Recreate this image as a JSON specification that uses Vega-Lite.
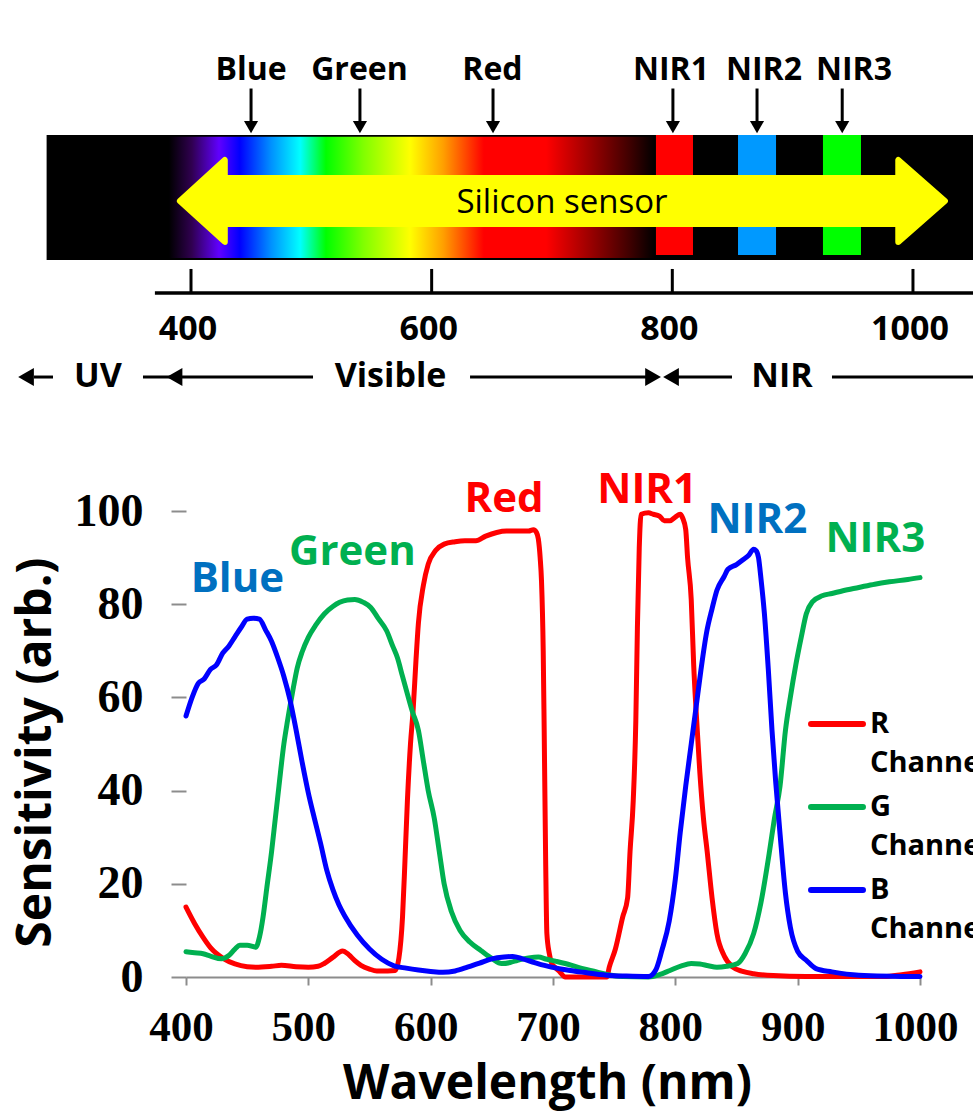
{
  "$schema": "https://vega.github.io/schema/vega-lite/v6.json",
  "width": 734,
  "height": 977,
  "autosize": {"type": "none"},
  "padding": {"left": 186, "top": 0, "right": 53, "bottom": 138},
  "background": "white",
  "config": {"view": {"stroke": null}, "font": "Open Sans"},
  "layer": [
    {
      "layer": [
        {
          "data": {"values": [
            {"channel":"R Channel","wavelength":400,"sensitivity":15},{"channel":"R Channel","wavelength":407,"sensitivity":11.5},{"channel":"R Channel","wavelength":414,"sensitivity":8.5},{"channel":"R Channel","wavelength":420,"sensitivity":6.3},{"channel":"R Channel","wavelength":431,"sensitivity":3.9},{"channel":"R Channel","wavelength":440,"sensitivity":2.8},{"channel":"R Channel","wavelength":450,"sensitivity":2.2},{"channel":"R Channel","wavelength":457,"sensitivity":2.1},{"channel":"R Channel","wavelength":470,"sensitivity":2.3},{"channel":"R Channel","wavelength":478,"sensitivity":2.5},{"channel":"R Channel","wavelength":490,"sensitivity":2.2},{"channel":"R Channel","wavelength":500,"sensitivity":2.1},{"channel":"R Channel","wavelength":508,"sensitivity":2.3},{"channel":"R Channel","wavelength":513,"sensitivity":2.9},{"channel":"R Channel","wavelength":520,"sensitivity":4.2},{"channel":"R Channel","wavelength":528,"sensitivity":5.6},{"channel":"R Channel","wavelength":533,"sensitivity":4.8},{"channel":"R Channel","wavelength":538,"sensitivity":3.5},{"channel":"R Channel","wavelength":543,"sensitivity":2.5},{"channel":"R Channel","wavelength":550,"sensitivity":1.7},{"channel":"R Channel","wavelength":556,"sensitivity":1.3},{"channel":"R Channel","wavelength":565,"sensitivity":1.3},{"channel":"R Channel","wavelength":571,"sensitivity":1.4},{"channel":"R Channel","wavelength":574,"sensitivity":4},{"channel":"R Channel","wavelength":577,"sensitivity":12.9},{"channel":"R Channel","wavelength":579,"sensitivity":25},{"channel":"R Channel","wavelength":581,"sensitivity":37.9},{"channel":"R Channel","wavelength":583.5,"sensitivity":50},{"channel":"R Channel","wavelength":585.6,"sensitivity":57},{"channel":"R Channel","wavelength":588,"sensitivity":68},{"channel":"R Channel","wavelength":590,"sensitivity":76},{"channel":"R Channel","wavelength":594,"sensitivity":84},{"channel":"R Channel","wavelength":598,"sensitivity":88.6},{"channel":"R Channel","wavelength":604,"sensitivity":91.5},{"channel":"R Channel","wavelength":611,"sensitivity":92.9},{"channel":"R Channel","wavelength":620,"sensitivity":93.4},{"channel":"R Channel","wavelength":628,"sensitivity":93.6},{"channel":"R Channel","wavelength":637,"sensitivity":93.6},{"channel":"R Channel","wavelength":645,"sensitivity":94.6},{"channel":"R Channel","wavelength":654,"sensitivity":95.4},{"channel":"R Channel","wavelength":662,"sensitivity":95.7},{"channel":"R Channel","wavelength":671,"sensitivity":95.7},{"channel":"R Channel","wavelength":680,"sensitivity":95.7},{"channel":"R Channel","wavelength":684,"sensitivity":96},{"channel":"R Channel","wavelength":686.5,"sensitivity":95.4},{"channel":"R Channel","wavelength":688,"sensitivity":94},{"channel":"R Channel","wavelength":689.5,"sensitivity":90},{"channel":"R Channel","wavelength":690.6,"sensitivity":85},{"channel":"R Channel","wavelength":692,"sensitivity":70},{"channel":"R Channel","wavelength":692.8,"sensitivity":52.9},{"channel":"R Channel","wavelength":694,"sensitivity":25},{"channel":"R Channel","wavelength":695,"sensitivity":9.3},{"channel":"R Channel","wavelength":697,"sensitivity":5},{"channel":"R Channel","wavelength":699,"sensitivity":2.9},{"channel":"R Channel","wavelength":702,"sensitivity":2},{"channel":"R Channel","wavelength":705.6,"sensitivity":1.1},{"channel":"R Channel","wavelength":710,"sensitivity":0},{"channel":"R Channel","wavelength":744,"sensitivity":0},{"channel":"R Channel","wavelength":746,"sensitivity":2.1},{"channel":"R Channel","wavelength":751,"sensitivity":6},{"channel":"R Channel","wavelength":757,"sensitivity":12.9},{"channel":"R Channel","wavelength":761,"sensitivity":17},{"channel":"R Channel","wavelength":763,"sensitivity":27},{"channel":"R Channel","wavelength":765.6,"sensitivity":37.9},{"channel":"R Channel","wavelength":767.7,"sensitivity":55},{"channel":"R Channel","wavelength":769,"sensitivity":75},{"channel":"R Channel","wavelength":770.5,"sensitivity":92},{"channel":"R Channel","wavelength":772,"sensitivity":99.3},{"channel":"R Channel","wavelength":778,"sensitivity":99.6},{"channel":"R Channel","wavelength":782,"sensitivity":99.3},{"channel":"R Channel","wavelength":787,"sensitivity":98.9},{"channel":"R Channel","wavelength":791,"sensitivity":97.9},{"channel":"R Channel","wavelength":795.6,"sensitivity":97.9},{"channel":"R Channel","wavelength":800,"sensitivity":98.7},{"channel":"R Channel","wavelength":804,"sensitivity":99.3},{"channel":"R Channel","wavelength":806,"sensitivity":98.5},{"channel":"R Channel","wavelength":808.5,"sensitivity":96},{"channel":"R Channel","wavelength":810,"sensitivity":90},{"channel":"R Channel","wavelength":813,"sensitivity":81},{"channel":"R Channel","wavelength":815,"sensitivity":67},{"channel":"R Channel","wavelength":817,"sensitivity":57},{"channel":"R Channel","wavelength":820,"sensitivity":44},{"channel":"R Channel","wavelength":823,"sensitivity":34},{"channel":"R Channel","wavelength":826,"sensitivity":27},{"channel":"R Channel","wavelength":830,"sensitivity":17},{"channel":"R Channel","wavelength":834,"sensitivity":9.3},{"channel":"R Channel","wavelength":840,"sensitivity":4.5},{"channel":"R Channel","wavelength":847,"sensitivity":2.1},{"channel":"R Channel","wavelength":855,"sensitivity":1.2},{"channel":"R Channel","wavelength":864,"sensitivity":0.7},{"channel":"R Channel","wavelength":880,"sensitivity":0.3},{"channel":"R Channel","wavelength":907,"sensitivity":0.1},{"channel":"R Channel","wavelength":971,"sensitivity":0.1},{"channel":"R Channel","wavelength":985,"sensitivity":0.5},{"channel":"R Channel","wavelength":1000,"sensitivity":1.1},
            {"channel":"G Channel","wavelength":400,"sensitivity":5.4},{"channel":"G Channel","wavelength":407,"sensitivity":5.2},{"channel":"G Channel","wavelength":414,"sensitivity":5},{"channel":"G Channel","wavelength":420,"sensitivity":4.5},{"channel":"G Channel","wavelength":429,"sensitivity":3.9},{"channel":"G Channel","wavelength":435,"sensitivity":4.6},{"channel":"G Channel","wavelength":440,"sensitivity":6},{"channel":"G Channel","wavelength":444,"sensitivity":6.8},{"channel":"G Channel","wavelength":450,"sensitivity":6.8},{"channel":"G Channel","wavelength":457,"sensitivity":6.4},{"channel":"G Channel","wavelength":460,"sensitivity":8.5},{"channel":"G Channel","wavelength":463,"sensitivity":12.9},{"channel":"G Channel","wavelength":466,"sensitivity":19},{"channel":"G Channel","wavelength":470,"sensitivity":27},{"channel":"G Channel","wavelength":473,"sensitivity":34},{"channel":"G Channel","wavelength":476,"sensitivity":41},{"channel":"G Channel","wavelength":480,"sensitivity":50},{"channel":"G Channel","wavelength":483,"sensitivity":55},{"channel":"G Channel","wavelength":487,"sensitivity":61},{"channel":"G Channel","wavelength":491,"sensitivity":66.4},{"channel":"G Channel","wavelength":495,"sensitivity":69.8},{"channel":"G Channel","wavelength":500,"sensitivity":72.9},{"channel":"G Channel","wavelength":506,"sensitivity":75.5},{"channel":"G Channel","wavelength":513,"sensitivity":77.9},{"channel":"G Channel","wavelength":520,"sensitivity":79.5},{"channel":"G Channel","wavelength":525.6,"sensitivity":80.4},{"channel":"G Channel","wavelength":532,"sensitivity":80.9},{"channel":"G Channel","wavelength":538,"sensitivity":81},{"channel":"G Channel","wavelength":545,"sensitivity":80.4},{"channel":"G Channel","wavelength":551,"sensitivity":79.3},{"channel":"G Channel","wavelength":557,"sensitivity":77},{"channel":"G Channel","wavelength":564,"sensitivity":74.3},{"channel":"G Channel","wavelength":569,"sensitivity":71},{"channel":"G Channel","wavelength":572.7,"sensitivity":68.6},{"channel":"G Channel","wavelength":577,"sensitivity":64.5},{"channel":"G Channel","wavelength":581,"sensitivity":60.7},{"channel":"G Channel","wavelength":585,"sensitivity":57},{"channel":"G Channel","wavelength":590,"sensitivity":52.9},{"channel":"G Channel","wavelength":594,"sensitivity":46.4},{"channel":"G Channel","wavelength":598,"sensitivity":40},{"channel":"G Channel","wavelength":603,"sensitivity":34},{"channel":"G Channel","wavelength":607,"sensitivity":27},{"channel":"G Channel","wavelength":611,"sensitivity":20},{"channel":"G Channel","wavelength":617,"sensitivity":14},{"channel":"G Channel","wavelength":624,"sensitivity":10},{"channel":"G Channel","wavelength":632,"sensitivity":7.5},{"channel":"G Channel","wavelength":641,"sensitivity":5.7},{"channel":"G Channel","wavelength":650,"sensitivity":4},{"channel":"G Channel","wavelength":658,"sensitivity":2.9},{"channel":"G Channel","wavelength":665,"sensitivity":3.1},{"channel":"G Channel","wavelength":671,"sensitivity":3.6},{"channel":"G Channel","wavelength":680,"sensitivity":4.1},{"channel":"G Channel","wavelength":688,"sensitivity":4.3},{"channel":"G Channel","wavelength":695,"sensitivity":3.8},{"channel":"G Channel","wavelength":702,"sensitivity":3.4},{"channel":"G Channel","wavelength":710,"sensitivity":2.9},{"channel":"G Channel","wavelength":720,"sensitivity":2.1},{"channel":"G Channel","wavelength":735.6,"sensitivity":1.1},{"channel":"G Channel","wavelength":745,"sensitivity":0.5},{"channel":"G Channel","wavelength":757,"sensitivity":0.1},{"channel":"G Channel","wavelength":778,"sensitivity":0},{"channel":"G Channel","wavelength":787,"sensitivity":0.5},{"channel":"G Channel","wavelength":795.6,"sensitivity":1.4},{"channel":"G Channel","wavelength":805,"sensitivity":2.4},{"channel":"G Channel","wavelength":813,"sensitivity":2.9},{"channel":"G Channel","wavelength":820,"sensitivity":2.8},{"channel":"G Channel","wavelength":827,"sensitivity":2.4},{"channel":"G Channel","wavelength":834,"sensitivity":2.1},{"channel":"G Channel","wavelength":842,"sensitivity":2.3},{"channel":"G Channel","wavelength":851,"sensitivity":2.9},{"channel":"G Channel","wavelength":857,"sensitivity":5},{"channel":"G Channel","wavelength":864,"sensitivity":9.3},{"channel":"G Channel","wavelength":870,"sensitivity":16},{"channel":"G Channel","wavelength":877,"sensitivity":27},{"channel":"G Channel","wavelength":881,"sensitivity":34},{"channel":"G Channel","wavelength":885.6,"sensitivity":41},{"channel":"G Channel","wavelength":890,"sensitivity":52.9},{"channel":"G Channel","wavelength":894,"sensitivity":60},{"channel":"G Channel","wavelength":898.5,"sensitivity":67},{"channel":"G Channel","wavelength":903,"sensitivity":73},{"channel":"G Channel","wavelength":907,"sensitivity":77.9},{"channel":"G Channel","wavelength":912,"sensitivity":80.5},{"channel":"G Channel","wavelength":920,"sensitivity":81.8},{"channel":"G Channel","wavelength":928,"sensitivity":82.3},{"channel":"G Channel","wavelength":937,"sensitivity":82.9},{"channel":"G Channel","wavelength":950,"sensitivity":83.6},{"channel":"G Channel","wavelength":963,"sensitivity":84.3},{"channel":"G Channel","wavelength":975,"sensitivity":84.8},{"channel":"G Channel","wavelength":990,"sensitivity":85.3},{"channel":"G Channel","wavelength":1000,"sensitivity":85.7},
            {"channel":"B Channel","wavelength":400,"sensitivity":56},{"channel":"B Channel","wavelength":405,"sensitivity":60},{"channel":"B Channel","wavelength":410,"sensitivity":63},{"channel":"B Channel","wavelength":415,"sensitivity":64},{"channel":"B Channel","wavelength":420,"sensitivity":66},{"channel":"B Channel","wavelength":425,"sensitivity":67},{"channel":"B Channel","wavelength":430,"sensitivity":69.5},{"channel":"B Channel","wavelength":435,"sensitivity":71},{"channel":"B Channel","wavelength":440,"sensitivity":73},{"channel":"B Channel","wavelength":445,"sensitivity":75},{"channel":"B Channel","wavelength":450,"sensitivity":76.8},{"channel":"B Channel","wavelength":455,"sensitivity":77},{"channel":"B Channel","wavelength":460,"sensitivity":76.8},{"channel":"B Channel","wavelength":465,"sensitivity":74.5},{"channel":"B Channel","wavelength":470,"sensitivity":72},{"channel":"B Channel","wavelength":475,"sensitivity":68.5},{"channel":"B Channel","wavelength":480,"sensitivity":64.5},{"channel":"B Channel","wavelength":485,"sensitivity":59.5},{"channel":"B Channel","wavelength":490,"sensitivity":53},{"channel":"B Channel","wavelength":495,"sensitivity":46},{"channel":"B Channel","wavelength":500,"sensitivity":39.5},{"channel":"B Channel","wavelength":505,"sensitivity":34},{"channel":"B Channel","wavelength":510,"sensitivity":28.7},{"channel":"B Channel","wavelength":515,"sensitivity":23},{"channel":"B Channel","wavelength":520,"sensitivity":18.8},{"channel":"B Channel","wavelength":525,"sensitivity":15.5},{"channel":"B Channel","wavelength":530,"sensitivity":13},{"channel":"B Channel","wavelength":540,"sensitivity":9},{"channel":"B Channel","wavelength":550,"sensitivity":6},{"channel":"B Channel","wavelength":560,"sensitivity":3.8},{"channel":"B Channel","wavelength":570,"sensitivity":2.4},{"channel":"B Channel","wavelength":580,"sensitivity":1.9},{"channel":"B Channel","wavelength":590,"sensitivity":1.5},{"channel":"B Channel","wavelength":600,"sensitivity":1.2},{"channel":"B Channel","wavelength":610,"sensitivity":1},{"channel":"B Channel","wavelength":620,"sensitivity":1.3},{"channel":"B Channel","wavelength":630,"sensitivity":2.1},{"channel":"B Channel","wavelength":640,"sensitivity":3},{"channel":"B Channel","wavelength":650,"sensitivity":3.9},{"channel":"B Channel","wavelength":660,"sensitivity":4.3},{"channel":"B Channel","wavelength":667,"sensitivity":4.4},{"channel":"B Channel","wavelength":675,"sensitivity":3.9},{"channel":"B Channel","wavelength":685,"sensitivity":3.1},{"channel":"B Channel","wavelength":693,"sensitivity":2.5},{"channel":"B Channel","wavelength":705,"sensitivity":1.8},{"channel":"B Channel","wavelength":714,"sensitivity":1.4},{"channel":"B Channel","wavelength":725,"sensitivity":1},{"channel":"B Channel","wavelength":744,"sensitivity":0.4},{"channel":"B Channel","wavelength":760,"sensitivity":0.2},{"channel":"B Channel","wavelength":778,"sensitivity":0.1},{"channel":"B Channel","wavelength":784,"sensitivity":1.5},{"channel":"B Channel","wavelength":789,"sensitivity":5.7},{"channel":"B Channel","wavelength":795,"sensitivity":12},{"channel":"B Channel","wavelength":800,"sensitivity":21},{"channel":"B Channel","wavelength":804,"sensitivity":31},{"channel":"B Channel","wavelength":808.5,"sensitivity":41},{"channel":"B Channel","wavelength":813,"sensitivity":50},{"channel":"B Channel","wavelength":817,"sensitivity":58},{"channel":"B Channel","wavelength":821,"sensitivity":66},{"channel":"B Channel","wavelength":825.6,"sensitivity":74},{"channel":"B Channel","wavelength":830,"sensitivity":79},{"channel":"B Channel","wavelength":834,"sensitivity":83},{"channel":"B Channel","wavelength":840,"sensitivity":86},{"channel":"B Channel","wavelength":843,"sensitivity":87.5},{"channel":"B Channel","wavelength":850,"sensitivity":88.5},{"channel":"B Channel","wavelength":855.6,"sensitivity":89.6},{"channel":"B Channel","wavelength":860,"sensitivity":90.5},{"channel":"B Channel","wavelength":864,"sensitivity":91.8},{"channel":"B Channel","wavelength":866,"sensitivity":91.5},{"channel":"B Channel","wavelength":868,"sensitivity":90},{"channel":"B Channel","wavelength":870,"sensitivity":85.5},{"channel":"B Channel","wavelength":872.8,"sensitivity":78},{"channel":"B Channel","wavelength":876,"sensitivity":66},{"channel":"B Channel","wavelength":879,"sensitivity":53},{"channel":"B Channel","wavelength":882,"sensitivity":42},{"channel":"B Channel","wavelength":885.6,"sensitivity":30.7},{"channel":"B Channel","wavelength":890,"sensitivity":18},{"channel":"B Channel","wavelength":894,"sensitivity":10.7},{"channel":"B Channel","wavelength":900,"sensitivity":5.5},{"channel":"B Channel","wavelength":907,"sensitivity":3.6},{"channel":"B Channel","wavelength":915,"sensitivity":1.8},{"channel":"B Channel","wavelength":928,"sensitivity":1.1},{"channel":"B Channel","wavelength":950,"sensitivity":0.4},{"channel":"B Channel","wavelength":1000,"sensitivity":0.1}
          ]},
          "mark": {"type": "line", "strokeWidth": 5, "interpolate": "monotone", "strokeCap": "round", "strokeJoin": "round"},
          "encoding": {
            "x": {
              "field": "wavelength", "type": "quantitative",
              "scale": {"domain": [400, 1000], "nice": false, "zero": false},
              "axis": {
                "values": [400, 500, 600, 700, 800, 900, 1000], "format": "d",
                "grid": false, "domainColor": "#8c8c8c", "domainWidth": 2,
                "tickColor": "#8c8c8c", "tickWidth": 2, "tickSize": 8,
                "labelFont": "Liberation Serif", "labelFontWeight": "bold", "labelFontSize": 43,
                "labelColor": "black", "labelBaseline": "alphabetic", "labelPadding": 55, "labelFlush": false,
                "labelOffset": -5,
                "title": "Wavelength (nm)", "titleFont": "Open Sans", "titleFontWeight": "bold",
                "titleFontSize": 48, "titleColor": "black", "titleX": 361, "titleY": 121,
                "titleBaseline": "alphabetic"
              }
            },
            "y": {
              "field": "sensitivity", "type": "quantitative",
              "scale": {"domain": [0, 209.66], "nice": false, "zero": false},
              "axis": {
                "values": [0, 20, 40, 60, 80, 100],
                "grid": false, "domain": false,
                "tickColor": "#8c8c8c", "tickWidth": 2, "tickSize": 15,
                "labelFont": "Liberation Serif", "labelFontWeight": "bold", "labelFontSize": 46,
                "labelColor": "black", "labelPadding": 28, "labelFlush": false,
                "title": "Sensitivity (arb.)", "titleFont": "Open Sans", "titleFontWeight": "bold",
                "titleFontSize": 48, "titleColor": "black", "titleX": -150, "titleY": 752,
                "titleBaseline": "middle"
              }
            },
            "color": {
              "field": "channel", "type": "nominal",
              "scale": {"domain": ["R Channel", "G Channel", "B Channel"], "range": ["#FF0000", "#00B050", "#0000FF"]},
              "legend": {
                "orient": "none", "legendX": 622, "legendY": 695, "title": null, "padding": 0,
                "symbolType": "stroke", "symbolSize": 2700, "symbolStrokeWidth": 6,
                "labelFont": "Open Sans", "labelFontWeight": "bold", "labelFontSize": 29, "labelColor": "black",
                "labelExpr": "split(datum.label, ' ')", "labelOffset": 4, "labelLimit": 300, "rowPadding": -1,
                "labelBaseline": "middle",
                "encode": {
                  "labels": {"update": {"lineHeight": {"value": 39}}},
                  "symbols": {"update": {"strokeCap": {"value": "round"}}}
                }
              }
            }
          }
        },
        {
          "mark": {"type": "rule", "color": "#8c8c8c", "strokeWidth": 2},
          "encoding": {
            "x": {"datum": 400, "type": "quantitative"},
            "y": {"datum": 0, "type": "quantitative"},
            "y2": {"datum": 100}
          }
        },
        {
          "data": {"values": [
            {"label": "Blue", "wavelength": 442, "sensitivity": 82.6},
            {"label": "Green", "wavelength": 536, "sensitivity": 88.4},
            {"label": "Red", "wavelength": 660, "sensitivity": 99.8},
            {"label": "NIR1", "wavelength": 777, "sensitivity": 101.7},
            {"label": "NIR2", "wavelength": 867, "sensitivity": 95.3},
            {"label": "NIR3", "wavelength": 963.5, "sensitivity": 91.2}
          ]},
          "mark": {"type": "text", "font": "Open Sans", "fontWeight": "bold", "fontSize": 42, "align": "center", "baseline": "alphabetic"},
          "encoding": {
            "x": {"field": "wavelength", "type": "quantitative"},
            "y": {"field": "sensitivity", "type": "quantitative"},
            "text": {"field": "label"},
            "color": {
              "field": "label", "type": "nominal",
              "scale": {"domain": ["Blue", "Green", "Red", "NIR1", "NIR2", "NIR3"], "range": ["#0070C0", "#00B050", "#FF0000", "#FF0000", "#0070C0", "#00B050"]},
              "legend": null
            }
          }
        }
      ],
      "resolve": {"scale": {"color": "independent"}}
    },
    {
      "layer": [
        {
          "data": {"values": [{"start": 280, "end": 1060}]},
          "mark": {"type": "rect", "color": "black"},
          "encoding": {
            "x": {"field": "start", "type": "quantitative", "scale": {"domain": [395.845, 1005.845], "nice": false, "zero": false}, "axis": null},
            "x2": {"field": "end"},
            "y": {"datum": 73.39, "type": "quantitative", "scale": {"domain": [0, 100], "nice": false, "zero": false}, "axis": null},
            "y2": {"datum": 86.18}
          }
        },
        {
          "data": {"values": [{"start": 381.7, "end": 785.6}]},
          "mark": {"type": "rect", "color": {"gradient": "linear", "x1": 0, "y1": 0, "x2": 1, "y2": 0, "stops": [
            {"offset": 0, "color": "#000000"},
            {"offset": 0.047, "color": "#300050"},
            {"offset": 0.103, "color": "#6000ff"},
            {"offset": 0.146, "color": "#0000ff"},
            {"offset": 0.21, "color": "#0090ff"},
            {"offset": 0.27, "color": "#00ffff"},
            {"offset": 0.323, "color": "#00ff00"},
            {"offset": 0.4, "color": "#80ff00"},
            {"offset": 0.496, "color": "#ffff00"},
            {"offset": 0.564, "color": "#ffa000"},
            {"offset": 0.648, "color": "#ff0000"},
            {"offset": 0.776, "color": "#ff0000"},
            {"offset": 0.862, "color": "#a00000"},
            {"offset": 0.947, "color": "#400000"},
            {"offset": 1, "color": "#000000"}
          ]}},
          "encoding": {
            "x": {"field": "start", "type": "quantitative", "axis": null},
            "x2": {"field": "end"},
            "y": {"datum": 73.6, "type": "quantitative", "axis": null},
            "y2": {"datum": 86.0}
          }
        },
        {
          "data": {"values": [
            {"band": "NIR1", "start": 786.4, "end": 817.2},
            {"band": "NIR2", "start": 854.6, "end": 886.2},
            {"band": "NIR3", "start": 925.2, "end": 956.8}
          ]},
          "mark": {"type": "rect", "opacity": 1},
          "encoding": {
            "x": {"field": "start", "type": "quantitative", "axis": null},
            "x2": {"field": "end"},
            "y": {"datum": 73.9, "type": "quantitative", "axis": null},
            "y2": {"datum": 86.18},
            "color": {"field": "band", "type": "nominal", "scale": {"domain": ["NIR1", "NIR2", "NIR3"], "range": ["#FF0000", "#0099FF", "#00FF00"]}, "legend": null}
          }
        },
        {
          "data": {"values": [{"start": 425, "end": 990}]},
          "mark": {"type": "rect", "color": "#FFFF00"},
          "encoding": {
            "x": {"field": "start", "type": "quantitative", "axis": null},
            "x2": {"field": "end"},
            "y": {"datum": 76.77, "type": "quantitative", "axis": null},
            "y2": {"datum": 82.09}
          }
        },
        {
          "data": {"values": [{"wavelength": 408.7}]},
          "mark": {"type": "point", "filled": true, "opacity": 1, "color": "#FFFF00", "stroke": "#FFFF00", "strokeWidth": 6, "strokeJoin": "round", "size": 7744, "shape": "M -0.49 0 L 0.53 -0.93 L 0.53 0.93 Z"},
          "encoding": {
            "x": {"field": "wavelength", "type": "quantitative", "axis": null},
            "y": {"datum": 79.43, "type": "quantitative", "axis": null}
          }
        },
        {
          "data": {"values": [{"wavelength": 1007.9}]},
          "mark": {"type": "point", "filled": true, "opacity": 1, "color": "#FFFF00", "stroke": "#FFFF00", "strokeWidth": 6, "strokeJoin": "round", "size": 7744, "shape": "M 0.51 0 L -0.55 -0.93 L -0.55 0.93 Z"},
          "encoding": {
            "x": {"field": "wavelength", "type": "quantitative", "axis": null},
            "y": {"datum": 79.43, "type": "quantitative", "axis": null}
          }
        },
        {
          "data": {"values": [{"text": "Silicon sensor", "wavelength": 708.3}]},
          "mark": {"type": "text", "font": "Open Sans", "fontSize": 33, "color": "black", "align": "center", "baseline": "middle"},
          "encoding": {
            "x": {"field": "wavelength", "type": "quantitative", "axis": null},
            "y": {"datum": 79.22, "type": "quantitative", "axis": null},
            "text": {"field": "text"}
          }
        },
        {
          "data": {"values": [
            {"label": "Blue", "arrow_at": 449.9, "label_at": 450},
            {"label": "Green", "arrow_at": 540.4, "label_at": 540},
            {"label": "Red", "arrow_at": 651, "label_at": 650.5},
            {"label": "NIR1", "arrow_at": 800.5, "label_at": 798.9},
            {"label": "NIR2", "arrow_at": 870.4, "label_at": 876.2},
            {"label": "NIR3", "arrow_at": 941.2, "label_at": 951}
          ]},
          "layer": [
            {
              "mark": {"type": "rule", "color": "black", "strokeWidth": 3},
              "encoding": {
                "x": {"field": "arrow_at", "type": "quantitative", "axis": null},
                "y": {"datum": 87.2, "type": "quantitative", "axis": null},
                "y2": {"datum": 90.94}
              }
            },
            {
              "mark": {"type": "point", "shape": "triangle-down", "filled": true, "opacity": 1, "color": "black", "size": 200},
              "encoding": {
                "x": {"field": "arrow_at", "type": "quantitative", "axis": null},
                "y": {"datum": 87.0, "type": "quantitative", "axis": null}
              }
            },
            {
              "mark": {"type": "text", "font": "Open Sans", "fontWeight": "bold", "fontSize": 32, "color": "black", "align": "center", "baseline": "alphabetic"},
              "encoding": {
                "x": {"field": "label_at", "type": "quantitative", "axis": null},
                "y": {"datum": 91.81, "type": "quantitative", "axis": null},
                "text": {"field": "label"}
              }
            }
          ]
        },
        {
          "data": {"values": [{"start": 370, "end": 1060}]},
          "mark": {"type": "rule", "color": "black", "strokeWidth": 3.5},
          "encoding": {
            "x": {"field": "start", "type": "quantitative", "axis": null},
            "x2": {"field": "end"},
            "y": {"datum": 70.0, "type": "quantitative", "axis": null}
          }
        },
        {
          "data": {"values": [{"wavelength": 400}, {"wavelength": 600}, {"wavelength": 800}, {"wavelength": 1000}]},
          "layer": [
            {
              "mark": {"type": "rule", "color": "black", "strokeWidth": 3},
              "encoding": {
                "x": {"field": "wavelength", "type": "quantitative", "axis": null},
                "y": {"datum": 70.0, "type": "quantitative", "axis": null},
                "y2": {"datum": 72.47}
              }
            },
            {
              "mark": {"type": "text", "font": "Open Sans", "fontWeight": "bold", "fontSize": 34, "color": "black", "align": "center", "baseline": "alphabetic", "dx": -3},
              "encoding": {
                "x": {"field": "wavelength", "type": "quantitative", "axis": null},
                "y": {"datum": 65.2, "type": "quantitative", "axis": null},
                "text": {"field": "wavelength", "type": "quantitative", "format": "d"}
              }
            }
          ]
        },
        {
          "data": {"values": [
            {"start": 269.5, "end": 285.3},
            {"start": 360.1, "end": 501.4},
            {"start": 631.9, "end": 784},
            {"start": 798.9, "end": 849.6},
            {"start": 932.7, "end": 1060}
          ]},
          "mark": {"type": "rule", "color": "black", "strokeWidth": 3},
          "encoding": {
            "x": {"field": "start", "type": "quantitative", "axis": null},
            "x2": {"field": "end"},
            "y": {"datum": 61.41, "type": "quantitative", "axis": null}
          }
        },
        {
          "data": {"values": [
            {"wavelength": 262.9, "direction": "left"},
            {"wavelength": 386.3, "direction": "left"},
            {"wavelength": 784, "direction": "right"},
            {"wavelength": 798.9, "direction": "left"}
          ]},
          "mark": {"type": "point", "filled": true, "opacity": 1, "color": "black", "size": 330},
          "encoding": {
            "x": {"field": "wavelength", "type": "quantitative", "axis": null},
            "y": {"datum": 61.41, "type": "quantitative", "axis": null},
            "shape": {"field": "direction", "type": "nominal", "scale": {"domain": ["left", "right"], "range": ["triangle-left", "triangle-right"]}, "legend": null}
          }
        },
        {
          "data": {"values": [
            {"region": "UV", "wavelength": 322.7},
            {"region": "Visible", "wavelength": 565.8},
            {"region": "NIR", "wavelength": 891.1}
          ]},
          "mark": {"type": "text", "font": "Open Sans", "fontWeight": "bold", "fontSize": 34, "color": "black", "align": "center", "baseline": "middle"},
          "encoding": {
            "x": {"field": "wavelength", "type": "quantitative", "axis": null},
            "y": {"datum": 61.41, "type": "quantitative", "axis": null},
            "text": {"field": "region"}
          }
        }
      ]
    }
  ],
  "resolve": {"scale": {"x": "independent", "y": "independent", "color": "independent", "shape": "independent"}}
}
